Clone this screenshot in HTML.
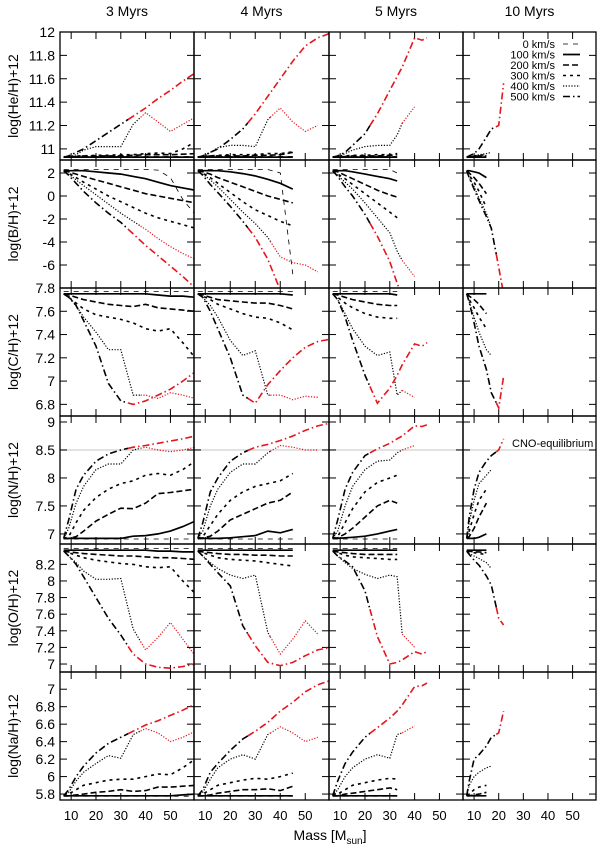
<!DOCTYPE html>
<html><head><meta charset="utf-8">
<style>
html,body{margin:0;padding:0;background:#fff;}
svg{display:block;font-family:"Liberation Sans",sans-serif;}
</style></head>
<body>
<svg id="chart" width="600" height="846" viewBox="0 0 600 846" xmlns="http://www.w3.org/2000/svg"></svg>
<script>
// ---- data ----
const speeds = ["0 km/s","100 km/s","200 km/s","300 km/s","400 km/s","500 km/s"];
const ages = ["3 Myrs","4 Myrs","5 Myrs","10 Myrs"];
const rowTitles = ["log(He/H)+12","log(B/H)+12","log(C/H)+12","log(N/H)+12","log(O/H)+12","log(Na/H)+12"];
const massA = [7,9,12,15,20,25,30,35,40,45,50,55,60];
const massB = [7,9,12,15,20,25,30,33,35,40,43,45];
const massC = [7,8,10,12,15,17,20,22];
const red500 = [33,27,22,19];
const red400 = [38,36,35,99];
const xTicks = [10,20,30,40,50];
const yTicksHe = [11,11.2,11.4,11.6,11.8,12];
const yTicksB = [-6,-4,-2,0,2];
const yTicksC = [6.8,7,7.2,7.4,7.6,7.8];
const yTicksN = [7,7.5,8,8.5,9];
const yTicksO = [7,7.2,7.4,7.6,7.8,8,8.2];
const yTicksNa = [5.8,6,6.2,6.4,6.6,6.8,7];
const N_ = null;

const he3 = [
 [10.935,10.935,10.935,10.935,10.935,10.935,10.935,10.935,10.935,10.935,10.935,10.935,10.935],
 [10.93,10.93,10.93,10.93,10.93,10.93,10.93,10.93,10.93,10.93,10.93,10.93,10.93],
 [10.93,10.93,10.935,10.94,10.94,10.94,10.94,10.945,10.95,10.95,10.95,10.955,10.96],
 [10.93,10.93,10.94,10.94,10.945,10.945,10.95,10.95,10.96,10.965,10.96,11.0,11.06],
 [10.93,10.93,10.95,10.99,11.02,11.02,11.02,11.21,11.31,11.23,11.15,11.21,11.27],
 [10.93,10.94,10.97,11.0,11.07,11.14,11.21,11.28,11.35,11.43,11.5,11.58,11.65]];
const he4 = [
 [10.935,10.935,10.935,10.935,10.935,10.935,10.935,10.935,10.935,10.935,N_,N_,N_],
 [10.93,10.93,10.93,10.93,10.93,10.93,10.93,10.93,10.93,10.93,N_,N_,N_],
 [10.93,10.93,10.94,10.94,10.94,10.94,10.945,10.945,10.95,10.97,N_,N_,N_],
 [10.93,10.93,10.94,10.945,10.95,10.95,10.95,10.96,10.96,10.975,N_,N_,N_],
 [10.93,10.93,10.97,11.01,11.03,11.03,11.02,11.25,11.35,11.23,11.15,11.2,N_],
 [10.93,10.94,10.97,11.0,11.08,11.17,11.3,11.45,11.6,11.75,11.88,11.95,11.99]];
const he5 = [
 [10.935,10.935,10.935,10.935,10.935,10.935,10.935,10.935,N_,N_,N_,N_],
 [10.93,10.93,10.93,10.93,10.93,10.93,10.93,10.93,N_,N_,N_,N_],
 [10.93,10.93,10.935,10.94,10.94,10.94,10.945,10.95,N_,N_,N_,N_],
 [10.93,10.93,10.94,10.945,10.945,10.95,10.95,10.96,N_,N_,N_,N_],
 [10.93,10.93,10.96,10.99,11.02,11.03,11.03,11.12,11.22,11.36,N_,N_],
 [10.93,10.94,10.97,11.03,11.13,11.3,11.5,11.62,11.7,11.95,11.93,11.95]];
const he10 = [
 [10.935,10.935,10.935,10.935,10.935,N_,N_,N_],
 [10.93,10.93,10.93,10.93,10.93,N_,N_,N_],
 [10.93,10.93,10.935,10.94,10.94,N_,N_,N_],
 [10.93,10.93,10.94,10.945,10.95,N_,N_,N_],
 [10.93,10.93,10.94,10.95,10.96,10.97,N_,N_],
 [10.93,10.94,10.96,11.0,11.1,11.17,11.2,11.56]];

const b3 = [
 [2.3,2.3,2.3,2.3,2.3,2.3,2.3,2.3,2.3,2.25,1.6,-0.3,-1.6],
 [2.2,2.2,2.2,2.2,2.1,2.0,1.9,1.7,1.5,1.2,0.9,0.7,0.5],
 [2.2,2.1,1.9,1.7,1.4,1.1,0.8,0.5,0.2,0,-0.2,-0.4,-0.6],
 [2.2,2.0,1.6,1.2,0.6,0.0,-0.5,-1.0,-1.5,-1.9,-2.2,-2.5,-2.8],
 [2.2,1.9,1.4,0.9,0.1,-0.7,-1.5,-2.2,-2.9,-3.7,-4.4,-5.0,-5.5],
 [2.2,1.8,1.1,0.4,-0.6,-1.5,-2.3,-3.3,-4.3,-5.2,-6.1,-7.0,-8.0]];
const b4 = [
 [2.3,2.3,2.3,2.3,2.3,2.3,2.3,2.3,2.0,-6.8,N_,N_,N_],
 [2.2,2.2,2.2,2.2,2.1,1.95,1.75,1.45,1.1,0.6,N_,N_,N_],
 [2.2,2.1,1.9,1.6,1.2,0.8,0.4,0.0,-0.3,-0.6,N_,N_,N_],
 [2.2,2.0,1.6,1.1,0.3,-0.5,-1.2,-1.7,-2.2,-2.6,N_,N_,N_],
 [2.2,1.9,1.4,0.8,-0.3,-1.4,-2.4,-3.6,-5.3,-5.8,-6.0,-6.6,N_],
 [2.2,1.8,1.0,0.3,-0.9,-2.2,-3.6,-5.5,-8.2,N_,N_,N_,N_]];
const b5 = [
 [2.3,2.3,2.3,2.3,2.3,2.3,2.3,2.0,N_,N_,N_,N_],
 [2.2,2.2,2.2,2.1,1.9,1.7,1.5,1.3,N_,N_,N_,N_],
 [2.2,2.1,1.8,1.5,1.0,0.5,0.1,-0.1,N_,N_,N_,N_],
 [2.2,1.9,1.5,1.0,0.2,-0.6,-1.4,-1.9,N_,N_,N_,N_],
 [2.2,1.8,1.2,0.6,-0.6,-1.9,-3.2,-4.8,-5.6,-7.0,N_,N_],
 [2.2,1.7,0.8,0.0,-1.6,-3.5,-5.7,-7.6,-8.8,N_,N_,N_]];
const b10 = [
 [N_,N_,N_,N_,N_,N_,N_,N_],
 [2.2,2.2,2.1,2.0,1.6,N_,N_,N_],
 [2.2,2.0,1.6,1.1,0.2,N_,N_,N_],
 [2.2,1.8,1.2,0.4,-1.0,N_,N_,N_],
 [2.2,1.6,0.8,-0.2,-1.5,-2.8,N_,N_],
 [2.2,1.6,0.6,-0.4,-1.8,-2.8,-6.2,-8.5]];

const c3 = [
 [7.77,7.77,7.77,7.77,7.77,7.77,7.77,7.77,7.77,7.77,7.77,7.77,7.77],
 [7.75,7.75,7.75,7.75,7.75,7.75,7.75,7.75,7.75,7.74,7.73,7.73,7.72],
 [7.75,7.74,7.72,7.70,7.68,7.66,7.65,7.64,7.66,7.63,7.62,7.61,7.60],
 [7.75,7.72,7.67,7.62,7.57,7.55,7.53,7.5,7.45,7.43,7.45,7.33,7.2],
 [7.75,7.73,7.65,7.55,7.42,7.27,7.27,6.88,6.88,6.85,6.90,6.88,6.85],
 [7.75,7.72,7.65,7.52,7.3,6.98,6.83,6.80,6.83,6.88,6.93,7.0,7.08]];
const c4 = [
 [7.77,7.77,7.77,7.77,7.77,7.77,7.77,7.77,7.77,7.77,N_,N_,N_],
 [7.75,7.75,7.75,7.75,7.75,7.75,7.75,7.75,7.75,7.74,N_,N_,N_],
 [7.75,7.74,7.72,7.70,7.69,7.68,7.67,7.67,7.65,7.62,N_,N_,N_],
 [7.75,7.73,7.70,7.66,7.62,7.58,7.55,7.54,7.5,7.44,N_,N_,N_],
 [7.75,7.72,7.65,7.55,7.35,7.22,7.26,6.88,6.88,6.84,6.87,6.86,N_],
 [7.75,7.72,7.6,7.45,7.2,6.88,6.81,6.97,7.09,7.2,7.29,7.34,7.36]];
const c5 = [
 [7.77,7.77,7.77,7.77,7.77,7.77,7.77,7.77,N_,N_,N_,N_],
 [7.75,7.75,7.75,7.75,7.75,7.75,7.75,7.74,N_,N_,N_,N_],
 [7.75,7.74,7.72,7.70,7.68,7.66,7.65,7.65,N_,N_,N_,N_],
 [7.75,7.72,7.67,7.63,7.58,7.55,7.54,7.54,N_,N_,N_,N_],
 [7.75,7.70,7.58,7.45,7.30,7.22,7.25,6.88,6.92,6.86,N_,N_],
 [7.75,7.7,7.55,7.35,7.05,6.81,6.94,7.05,7.14,7.32,7.3,7.33]];
const c10 = [
 [N_,N_,N_,N_,N_,N_,N_,N_],
 [7.75,7.75,7.75,7.75,7.75,N_,N_,N_],
 [7.75,7.73,7.70,7.66,7.58,N_,N_,N_],
 [7.75,7.70,7.63,7.55,7.45,N_,N_,N_],
 [7.75,7.68,7.55,7.42,7.27,7.22,N_,N_],
 [7.75,7.68,7.5,7.3,7.1,6.9,6.77,7.04]];

const n3 = [
 [6.91,6.91,6.91,6.91,6.91,6.91,6.91,6.91,6.91,6.91,6.91,6.91,6.91],
 [6.92,6.92,6.92,6.92,6.92,6.92,6.92,6.96,6.97,7.0,7.05,7.13,7.23],
 [6.92,6.92,6.95,7.05,7.23,7.35,7.46,7.45,7.55,7.72,7.74,7.77,7.8],
 [6.92,6.95,7.2,7.42,7.65,7.8,7.9,7.95,8.05,8.08,8.05,8.15,8.3],
 [6.92,7.1,7.55,7.85,8.15,8.25,8.25,8.5,8.55,8.5,8.47,8.5,8.55],
 [6.92,7.25,7.8,8.05,8.3,8.43,8.5,8.55,8.58,8.62,8.66,8.7,8.75]];
const n4 = [
 [6.91,6.91,6.91,6.91,6.91,6.91,6.91,6.91,6.91,6.91,N_,N_,N_],
 [6.92,6.92,6.92,6.92,6.93,6.95,6.97,7.05,7.02,7.08,N_,N_,N_],
 [6.92,6.93,6.96,7.05,7.25,7.35,7.45,7.55,7.6,7.75,N_,N_,N_],
 [6.92,6.95,7.15,7.35,7.6,7.75,7.85,7.9,7.95,8.08,N_,N_,N_],
 [6.92,7.05,7.5,7.8,8.1,8.25,8.25,8.45,8.58,8.55,8.5,8.5,N_],
 [6.92,7.2,7.75,8.0,8.3,8.45,8.55,8.6,8.67,8.75,8.85,8.93,8.98]];
const n5 = [
 [6.91,6.91,6.91,6.91,6.91,6.91,6.91,6.91,N_,N_,N_,N_],
 [6.92,6.92,6.93,6.94,6.96,7.0,7.05,7.08,N_,N_,N_,N_],
 [6.92,6.93,7.0,7.1,7.3,7.5,7.6,7.55,N_,N_,N_,N_],
 [6.92,6.95,7.2,7.45,7.75,7.92,8.0,8.05,N_,N_,N_,N_],
 [6.92,7.05,7.5,7.85,8.15,8.3,8.32,8.45,8.5,8.58,N_,N_],
 [6.92,7.25,7.8,8.1,8.4,8.52,8.62,8.7,8.75,8.93,8.92,8.95]];
const n10 = [
 [N_,N_,N_,N_,N_,N_,N_,N_],
 [6.92,6.92,6.92,6.94,7.0,N_,N_,N_],
 [6.92,6.95,7.1,7.3,7.55,N_,N_,N_],
 [6.92,7.05,7.35,7.6,7.8,N_,N_,N_],
 [6.92,7.2,7.6,7.9,8.05,8.15,N_,N_],
 [6.92,7.3,7.8,8.1,8.3,8.4,8.5,8.7]];

const o3 = [
 [8.39,8.39,8.39,8.39,8.39,8.39,8.39,8.39,8.39,8.39,8.39,8.39,8.39],
 [8.37,8.37,8.37,8.37,8.37,8.37,8.37,8.37,8.37,8.36,8.36,8.35,8.35],
 [8.36,8.35,8.34,8.33,8.32,8.31,8.30,8.30,8.29,8.28,8.28,8.27,8.26],
 [8.36,8.34,8.31,8.28,8.25,8.23,8.21,8.20,8.17,8.16,8.17,8.0,7.85],
 [8.36,8.3,8.22,8.12,8.02,8.02,8.03,7.42,7.17,7.32,7.5,7.3,7.1],
 [8.36,8.3,8.2,8.05,7.8,7.55,7.35,7.12,7.0,6.96,6.95,6.97,7.0]];
const o4 = [
 [8.39,8.39,8.39,8.39,8.39,8.39,8.39,8.39,8.39,8.39,N_,N_,N_],
 [8.37,8.37,8.37,8.37,8.37,8.37,8.37,8.37,8.37,8.37,N_,N_,N_],
 [8.36,8.35,8.34,8.33,8.32,8.32,8.31,8.31,8.30,8.30,N_,N_,N_],
 [8.36,8.34,8.31,8.28,8.26,8.25,8.24,8.22,8.2,8.18,N_,N_,N_],
 [8.36,8.3,8.22,8.15,8.07,8.03,8.07,7.38,7.12,7.3,7.52,7.36,N_],
 [8.36,8.3,8.2,8.1,7.94,7.46,7.22,7.02,6.98,7.02,7.1,7.17,7.2]];
const o5 = [
 [8.39,8.39,8.39,8.39,8.39,8.39,8.39,8.39,N_,N_,N_,N_],
 [8.37,8.37,8.37,8.37,8.37,8.37,8.37,8.37,N_,N_,N_,N_],
 [8.36,8.35,8.34,8.33,8.32,8.32,8.32,8.32,N_,N_,N_,N_],
 [8.36,8.34,8.31,8.29,8.28,8.27,8.26,8.26,N_,N_,N_,N_],
 [8.36,8.3,8.22,8.15,8.08,8.03,8.07,8.05,7.36,7.2,N_,N_],
 [8.36,8.3,8.24,8.17,7.88,7.33,7.0,7.02,7.05,7.15,7.12,7.15]];
const o10 = [
 [N_,N_,N_,N_,N_,N_,N_,N_],
 [8.37,8.37,8.37,8.37,8.37,N_,N_,N_],
 [8.36,8.36,8.35,8.35,8.34,N_,N_,N_],
 [8.36,8.35,8.34,8.33,8.32,N_,N_,N_],
 [8.36,8.33,8.3,8.27,8.22,8.15,N_,N_],
 [8.36,8.32,8.25,8.19,8.06,7.95,7.55,7.47]];

const na3 = [
 [5.775,5.775,5.775,5.775,5.775,5.775,5.775,5.775,5.775,5.775,5.775,5.775,5.775],
 [5.78,5.78,5.78,5.78,5.78,5.78,5.78,5.78,5.78,5.78,5.78,5.79,5.8],
 [5.78,5.78,5.79,5.8,5.82,5.83,5.85,5.83,5.84,5.88,5.88,5.89,5.90],
 [5.78,5.8,5.85,5.9,5.93,5.96,5.97,5.97,6.0,6.03,6.02,6.1,6.2],
 [5.78,5.82,5.95,6.05,6.15,6.24,6.21,6.48,6.55,6.5,6.4,6.45,6.52],
 [5.78,5.85,6.0,6.12,6.27,6.38,6.45,6.52,6.59,6.64,6.7,6.76,6.83]];
const na4 = [
 [5.775,5.775,5.775,5.775,5.775,5.775,5.775,5.775,5.775,5.775,N_,N_,N_],
 [5.78,5.78,5.78,5.78,5.78,5.78,5.78,5.78,5.78,5.78,N_,N_,N_],
 [5.78,5.78,5.79,5.81,5.83,5.85,5.85,5.86,5.84,5.89,N_,N_,N_],
 [5.78,5.8,5.85,5.9,5.93,5.96,5.98,5.97,6.0,6.04,N_,N_,N_],
 [5.78,5.82,5.97,6.1,6.2,6.25,6.2,6.48,6.57,6.5,6.4,6.45,N_],
 [5.78,5.85,6.05,6.15,6.3,6.43,6.52,6.62,6.75,6.85,6.97,7.05,7.1]];
const na5 = [
 [5.775,5.775,5.775,5.775,5.775,5.775,5.775,5.775,N_,N_,N_,N_],
 [5.78,5.78,5.78,5.78,5.78,5.78,5.78,5.78,N_,N_,N_,N_],
 [5.78,5.78,5.8,5.81,5.83,5.85,5.87,5.85,N_,N_,N_,N_],
 [5.78,5.8,5.85,5.9,5.93,5.96,5.98,5.97,N_,N_,N_,N_],
 [5.78,5.85,6.0,6.1,6.2,6.25,6.21,6.48,6.5,6.58,N_,N_],
 [5.78,5.95,6.15,6.28,6.45,6.56,6.67,6.75,6.82,7.03,7.04,7.07]];
const na10 = [
 [N_,N_,N_,N_,N_,N_,N_,N_],
 [5.78,5.78,5.78,5.78,5.78,N_,N_,N_],
 [5.78,5.78,5.79,5.8,5.82,N_,N_,N_],
 [5.78,5.8,5.85,5.88,5.9,N_,N_,N_],
 [5.78,5.9,6.0,6.05,6.1,6.12,N_,N_],
 [5.78,5.95,6.2,6.25,6.35,6.45,6.5,6.75]];

// ---- layout ----
const colX = [60,194,329,463,596];
const rowY = [32,160,288,416,544,672,800];
const xMin = 5.5, xMax = 59.5;
const yRanges = [[10.905,12],[-8,3.13],[6.7,7.8],[6.82,9.107],[6.904,8.445],[5.732,7.197]];
const yTicks = [yTicksHe,yTicksB,yTicksC,yTicksN,yTicksO,yTicksNa];
const rowData = [[he3,he4,he5,he10],[b3,b4,b5,b10],[c3,c4,c5,c10],[n3,n4,n5,n10],[o3,o4,o5,o10],[na3,na4,na5,na10]];
const colMass = [massA,massA,massB,massC];
const styles = [
 {w:0.8,d:"5,5"},{w:1.7,d:""},{w:1.6,d:"6,3"},{w:1.6,d:"3,4"},{w:1.2,d:"1.2,1.6"},{w:1.6,d:"7,3,1.5,3"}];
const RED = "#e4151c";

const svg = document.getElementById('chart');
const NS = "http://www.w3.org/2000/svg";
function mk(tag, attrs, parent){
  const e = document.createElementNS(NS, tag);
  for (const k in attrs) e.setAttribute(k, attrs[k]);
  (parent||svg).appendChild(e);
  return e;
}
function xScale(c, m){ return colX[c] + (m - xMin)/(xMax - xMin)*(colX[c+1]-colX[c]); }
function yScale(r, v){ const [a,b]=yRanges[r]; return rowY[r+1] - (v - a)/(b - a)*(rowY[r+1]-rowY[r]); }
function fmt(v){ return String(Math.round(v*10)/10); }

const defs = mk('defs',{});
// column titles
ages.forEach((t,c)=>{
  const e = mk('text',{x:(colX[c]+colX[c+1])/2, y:16, 'text-anchor':'middle','font-size':14});
  e.textContent = t;
  
  
});

for (let r=0;r<6;r++){
  // row title
  const cy = (rowY[r]+rowY[r+1])/2;
  const tt = mk('text',{x:0,y:0,transform:`translate(18,${cy}) rotate(-90)`,'text-anchor':'middle','font-size':14});
  tt.textContent = rowTitles[r];
  
  
  // y tick labels
  yTicks[r].forEach(v=>{
    const y = yScale(r,v);
    const lb = mk('text',{x:55,y:y+5,'text-anchor':'end','font-size':14});
    lb.textContent = fmt(v);
    
    
  });
  for (let c=0;c<4;c++){
    const g = mk('g',{});
    
    
    const x0=colX[c],x1=colX[c+1],y0=rowY[r],y1=rowY[r+1];
    const cp = mk('clipPath',{id:`cp${r}${c}`},defs);
    mk('rect',{x:x0,y:y0,width:x1-x0,height:y1-y0},cp);
    // CNO line
    if (r===3){
      const l = mk('line',{x1:x0,x2:x1,y1:yScale(r,8.5),y2:yScale(r,8.5),stroke:'#d8d8d8','stroke-width':1.5},g);
      
      
    }
    // ticks
    xTicks.forEach(m=>{
      const x = xScale(c,m);
      mk('line',{x1:x,x2:x,y1:y0,y2:y0+7,stroke:'#000','stroke-width':1},g);
      mk('line',{x1:x,x2:x,y1:y1,y2:y1-7,stroke:'#000','stroke-width':1},g);
    });
    yTicks[r].forEach(v=>{
      const y = yScale(r,v);
      if (y<=y0+1||y>=y1-1) return;
      mk('line',{x1:x0,x2:x0+7,y1:y,y2:y,stroke:'#000','stroke-width':1},g);
      mk('line',{x1:x1,x2:x1-7,y1:y,y2:y,stroke:'#000','stroke-width':1},g);
    });
    // series
    const masses = colMass[c];
    const data = rowData[r][c];
    const sg = mk('g',{'clip-path':`url(#cp${r}${c})`},g);
    for (let s=0;s<6;s++){
      const vals = data[s];
      const pts = [];
      for (let i=0;i<masses.length;i++) if (vals[i]!==null) pts.push([masses[i],vals[i]]);
      if (pts.length<2) continue;
      const st = styles[s];
      const thr = s===5 ? red500[c] : (s===4 ? red400[c] : 999);
      const black = [], red = [];
      for (let i=0;i<pts.length;i++){
        const [m,v]=pts[i];
        if (m<=thr) black.push(pts[i]);
        if (i>0){
          const [pm,pv]=pts[i-1];
          if (pm<thr && m>thr){
            const t=(thr-pm)/(m-pm); const ip=[thr,pv+t*(v-pv)];
            black.push(ip); red.push(ip);
          }
        }
        if (m>=thr) red.push(pts[i]);
      }
      const toD = arr => arr.map((p,i)=>(i?'L':'M')+xScale(c,p[0]).toFixed(1)+','+yScale(r,p[1]).toFixed(1)).join(' ');
      if (black.length>1){
        const p = mk('path',{d:toD(black),fill:'none',stroke:'#000','stroke-width':st.w,'stroke-dasharray':st.d},sg);
        
        
      }
      if (red.length>1){
        const p = mk('path',{d:toD(red),fill:'none',stroke:RED,'stroke-width':st.w,'stroke-dasharray':st.d},sg);
        
        
      }
    }
    // frame
    mk('rect',{x:x0,y:y0,width:x1-x0,height:y1-y0,fill:'none',stroke:'#000','stroke-width':1.3},g);
  }
}
// CNO label
const cno = mk('text',{x:512,y:447,'font-size':11});
cno.textContent = 'CNO-equilibrium';



// x tick labels & title
for (let c=0;c<4;c++){
  xTicks.forEach(m=>{
    const t = mk('text',{x:xScale(c,m),y:820,'text-anchor':'middle','font-size':13});
    t.textContent = String(m);
    
    
  });
}
const xt = mk('text',{x:330,y:840,'text-anchor':'middle','font-size':14});


xt.appendChild(document.createTextNode('Mass [M'));
const sub = mk('tspan',{'font-size':10,dy:4},xt); sub.textContent='sun';
const cl = mk('tspan',{dy:-4},xt); cl.textContent=']';

// legend
const lg = mk('g',{});


speeds.forEach((sp,i)=>{
  const y = 44 + i*10.5;
  const t = mk('text',{x:555,y:y+4,'text-anchor':'end','font-size':11},lg);
  t.textContent = sp;
  
  
  mk('line',{x1:563,x2:580,y1:y,y2:y,stroke:'#000','stroke-width':styles[i].w,'stroke-dasharray':styles[i].d},lg);
});
</script>
</body></html>
